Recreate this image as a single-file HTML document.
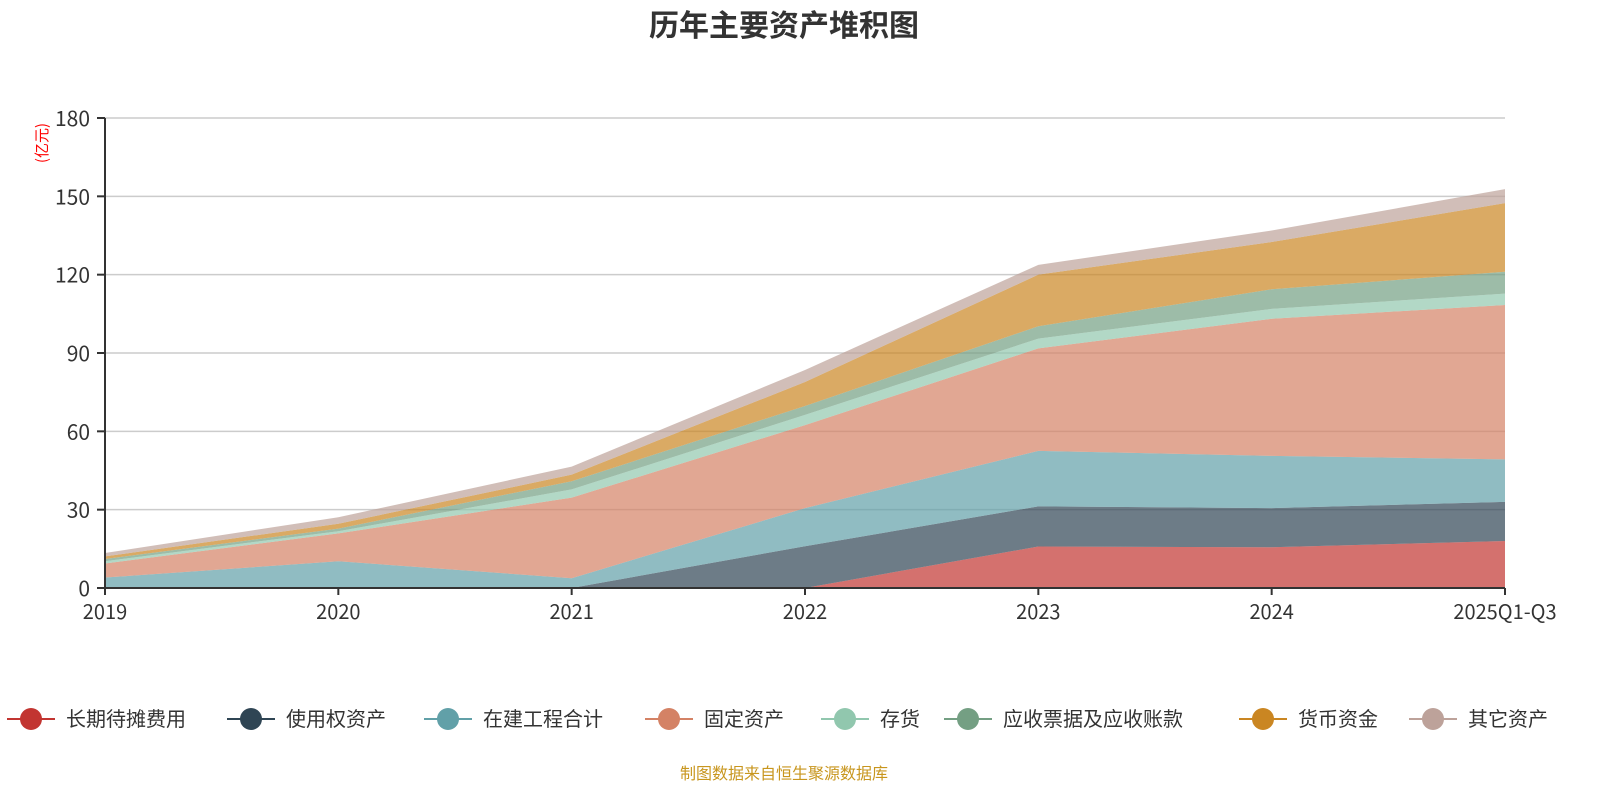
<!DOCTYPE html>
<html><head><meta charset="utf-8"><style>
body{margin:0;background:#fff;font-family:"Noto Sans CJK SC","Liberation Sans",sans-serif;}
svg text{font-family:"Noto Sans CJK SC","Liberation Sans",sans-serif;}
</style></head><body>
<svg id="chart" width="1600" height="800">
<text x="784" y="36" text-anchor="middle" font-size="30" font-weight="bold" fill="#333">历年主要资产堆积图</text>
<text transform="translate(47,143) rotate(-90)" text-anchor="middle" font-size="15" fill="#f00">(亿元)</text>
<g id="grid"></g><g id="areas"></g><g id="axes"></g><g id="legend"></g>
<text x="784" y="779" text-anchor="middle" font-size="16" fill="#c8961e">制图数据来自恒生聚源数据库</text>
</svg>
<script>
const categories=["2019","2020","2021","2022","2023","2024","2025Q1-Q3"];
const seriesNames=["长期待摊费用","使用权资产","在建工程合计","固定资产","存货","应收票据及应收账款","货币资金","其它资产"];
const sLong=[0,0,0,0,15.9,15.6,18];
const sRou=[0,0,0,16,15.35,15,15];
const sCip=[4,10.25,3.75,14.6,21.25,20,16.25];
const sFixed=[5.4,10.65,30.85,31.8,39.25,52.5,59.15];
const sInv=[0.85,0.85,3.15,3.9,3.75,3.8,4.35];
const sRecv=[0.85,1,3.15,3.4,4.75,7.5,8.35];
const sCash=[1,1.85,2.5,9.2,19.75,18.1,26.3];
const sOther=[1.3,2.5,3.1,4.6,3.75,4.4,5.35];
const yTicks=[0,30,60,90,120,150,180];
const series=[sLong,sRou,sCip,sFixed,sInv,sRecv,sCash,sOther];
const colors=["#c23531","#2f4554","#61a0a8","#d48265","#91c7ae","#749f83","#ca8622","#bda29a"];
const NS="http://www.w3.org/2000/svg";
const X0=105,X1=1505,Y0=588,Y1=118,YMAX=180;
const xs=i=>X0+(X1-X0)*i/(categories.length-1);
const ys=v=>Y0-(Y0-Y1)*v/YMAX;
function mk(t,a,p){const e=document.createElementNS(NS,t);for(const k in a)e.setAttribute(k,a[k]);p.appendChild(e);return e;}
const grid=document.getElementById('grid'),axes=document.getElementById('axes'),areas=document.getElementById('areas'),leg=document.getElementById('legend');
yTicks.forEach(t=>{
 if(t>0){const l=mk('line',{x1:X0,x2:X1,y1:ys(t),y2:ys(t),stroke:'#ccc','stroke-width':1.5},grid);
 
 }
 const tk=mk('line',{x1:X0-8,x2:X0,y1:ys(t),y2:ys(t),stroke:'#333','stroke-width':2},axes);
 
 
 const tx=mk('text',{x:X0-15,y:ys(t)+8,'text-anchor':'end','font-size':21,fill:'#333'},axes);tx.textContent=t;
 
 
});
let base=categories.map(()=>0);
series.forEach((s,k)=>{
 const top=base.map((b,i)=>b+s[i]);
 let d='M'+top.map((v,i)=>xs(i)+','+ys(v)).join(' L');
 for(let i=categories.length-1;i>=0;i--)d+=' L'+xs(i)+','+ys(base[i]);
 const p=mk('path',{d:d+'Z',fill:colors[k],'fill-opacity':0.7},areas);
 
 
 base=top;
});
const ya=mk('line',{x1:X0,x2:X0,y1:Y1,y2:Y0,stroke:'#333','stroke-width':2},axes);


const xa=mk('line',{x1:X0,x2:X1,y1:Y0,y2:Y0,stroke:'#333','stroke-width':2},axes);


categories.forEach((c,i)=>{
 const tk=mk('line',{x1:xs(i),x2:xs(i),y1:Y0,y2:Y0+7,stroke:'#333','stroke-width':2},axes);
 
 
 const t=mk('text',{x:xs(i),y:619,'text-anchor':'middle','font-size':20,fill:'#333'},axes);t.textContent=c;
 
 
});
const lx=[31,251,448,669,845,968,1263,1433];
seriesNames.forEach((n,k)=>{
 const g=mk('g',{},leg);
 
 
 mk('line',{x1:lx[k]-24,x2:lx[k]+24,y1:719,y2:719,stroke:colors[k],'stroke-width':2},g);
 mk('circle',{cx:lx[k],cy:719,r:11,fill:colors[k]},g);
 const t=mk('text',{x:lx[k]+35,y:726,'font-size':20,fill:'#333'},g);t.textContent=n;
});
</script>
</body></html>
